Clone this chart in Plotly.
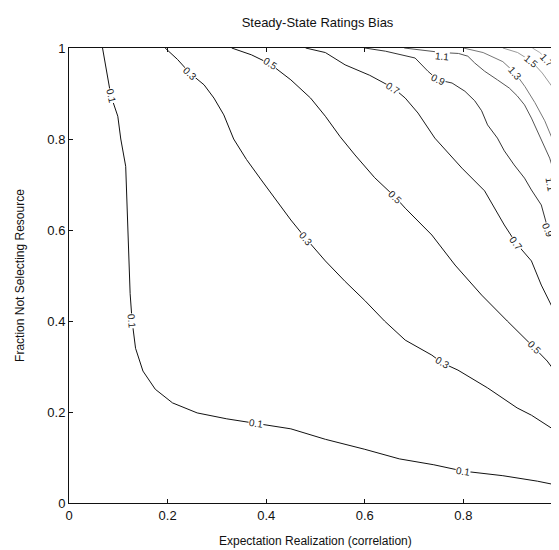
import math
import plotly.graph_objects as go

# ---- data (contour lines of "bias") ----
levels = [0.1, 0.3, 0.5, 0.7, 0.9, 1.1, 1.3, 1.5, 1.7]

c01_x = [0.068, 0.075, 0.085, 0.099, 0.105, 0.115, 0.118, 0.121, 0.124, 0.128, 0.135, 0.15, 0.175, 0.21, 0.26, 0.32, 0.38, 0.45, 0.52, 0.6, 0.67, 0.74, 0.8, 0.88, 0.95, 1.0]
c01_y = [1.0, 0.96, 0.895, 0.85, 0.80, 0.74, 0.65, 0.55, 0.46, 0.40, 0.34, 0.29, 0.25, 0.22, 0.198, 0.185, 0.175, 0.163, 0.14, 0.118, 0.097, 0.084, 0.07, 0.06, 0.048, 0.037]

c03_x = [0.195, 0.22, 0.245, 0.274, 0.294, 0.314, 0.334, 0.36, 0.39, 0.42, 0.45, 0.48, 0.52, 0.56, 0.6, 0.64, 0.682, 0.736, 0.757, 0.789, 0.849, 0.909, 0.938, 0.978, 1.0]
c03_y = [1.0, 0.975, 0.945, 0.919, 0.89, 0.853, 0.80, 0.755, 0.71, 0.665, 0.622, 0.582, 0.532, 0.487, 0.445, 0.4, 0.358, 0.325, 0.308, 0.292, 0.253, 0.209, 0.193, 0.165, 0.136]

c05_x = [0.33, 0.37, 0.408, 0.45, 0.49, 0.52, 0.55, 0.58, 0.62, 0.662, 0.682, 0.736, 0.783, 0.837, 0.889, 0.924, 0.944, 0.97, 1.0]
c05_y = [1.0, 0.985, 0.965, 0.93, 0.89, 0.85, 0.805, 0.765, 0.715, 0.672, 0.648, 0.589, 0.523, 0.457, 0.40, 0.363, 0.341, 0.312, 0.268]

c07_x = [0.48, 0.52, 0.56, 0.61, 0.658, 0.682, 0.708, 0.742, 0.797, 0.843, 0.883, 0.907, 0.938, 0.958, 0.984, 1.0]
c07_y = [1.0, 0.99, 0.963, 0.94, 0.912, 0.89, 0.857, 0.802, 0.736, 0.686, 0.611, 0.571, 0.532, 0.479, 0.422, 0.385]

c09_x = [0.60, 0.642, 0.702, 0.728, 0.748, 0.777, 0.803, 0.823, 0.837, 0.849, 0.869, 0.883, 0.903, 0.924, 0.938, 0.958, 0.972, 0.99, 1.0]
c09_y = [1.0, 0.993, 0.978, 0.949, 0.93, 0.923, 0.905, 0.884, 0.862, 0.831, 0.802, 0.774, 0.743, 0.714, 0.688, 0.655, 0.6, 0.567, 0.516]

c11_x = [0.68, 0.72, 0.757, 0.79, 0.809, 0.823, 0.843, 0.869, 0.893, 0.909, 0.924, 0.938, 0.95, 0.962, 0.975, 0.983, 0.987, 0.992, 1.0]
c11_y = [1.0, 0.995, 0.99, 0.988, 0.982, 0.967, 0.949, 0.93, 0.912, 0.895, 0.875, 0.846, 0.818, 0.787, 0.758, 0.73, 0.70, 0.67, 0.64]

c13_x = [0.80, 0.84, 0.88, 0.905, 0.925, 0.945, 0.965, 0.98, 0.992, 1.0]
c13_y = [1.0, 0.99, 0.97, 0.945, 0.915, 0.88, 0.84, 0.80, 0.77, 0.74]

c15_x = [0.88, 0.91, 0.938, 0.96, 0.98, 1.0]
c15_y = [1.0, 0.99, 0.971, 0.945, 0.915, 0.88]

c17_x = [0.94, 0.955, 0.97, 0.985, 1.0]
c17_y = [1.0, 0.99, 0.974, 0.955, 0.93]

# index along each curve where an inline level label sits
label_idx = {
    0.1: [2, 9, 16, 22],
    0.3: [2, 11, 18],
    0.5: [2, 9, 16],
    0.7: [4, 11],
    0.9: [4, 16],
    1.1: [2, 16],
    1.3: [3],
    1.5: [2],
    1.7: [2],
}

x_ticks = [0, 0.2, 0.4, 0.6, 0.8, 1]
x_tick_text = ["0", "0.2", "0.4", "0.6", "0.8", "1"]
y_ticks = [0, 0.2, 0.4, 0.6, 0.8, 1]
y_tick_text = ["0", "0.2", "0.4", "0.6", "0.8", "1"]

curves = {
    0.1: (c01_x, c01_y), 0.3: (c03_x, c03_y), 0.5: (c05_x, c05_y),
    0.7: (c07_x, c07_y), 0.9: (c09_x, c09_y), 1.1: (c11_x, c11_y),
    1.3: (c13_x, c13_y), 1.5: (c15_x, c15_y), 1.7: (c17_x, c17_y),
}
colors = {0.1: "#111", 0.3: "#111", 0.5: "#111", 0.7: "#1a1a1a", 0.9: "#333",
          1.1: "#555", 1.3: "#777", 1.5: "#999", 1.7: "#aaa"}

FONT = "Liberation Sans, Arial, sans-serif"
LABEL_FS = 10
W, H = 559, 550
M = dict(l=61, r=1, t=40, b=55)
PW = W - M["l"] - M["r"]
PH = H - M["t"] - M["b"]

fig = go.Figure()
for lv in levels:
    xs, ys = curves[lv]
    fig.add_trace(go.Scatter(x=xs, y=ys, mode="lines",
                             line=dict(color=colors[lv], width=1),
                             hoverinfo="skip", showlegend=False, cliponaxis=True))

annotations = []
for lv in levels:
    xs, ys = curves[lv]
    for i in label_idx[lv]:
        a = max(i - 1, 0)
        b = min(i + 1, len(xs) - 1)
        dx = (xs[b] - xs[a]) * PW
        dy = -(ys[b] - ys[a]) * PH
        ang = math.degrees(math.atan2(dy, dx))
        if ang > 90:
            ang -= 180
        if ang < -90:
            ang += 180
        txt = f"{lv:g}"
        # keep the rotated label box inside the page
        tw = len(txt) * 0.6 * LABEL_FS
        th = LABEL_FS * 1.3
        r = math.radians(ang)
        half_w = (tw * abs(math.cos(r)) + th * abs(math.sin(r))) / 2
        half_h = (tw * abs(math.sin(r)) + th * abs(math.cos(r))) / 2
        px = M["l"] + xs[i] * PW
        py = M["t"] + (1 - ys[i]) * PH
        xshift = min(0.0, (W - 5) - (px + half_w))
        yshift = 0.0
        if py - half_h < M["t"] + 1:
            yshift = -((M["t"] + 1) - (py - half_h))
        annotations.append(dict(
            x=xs[i], y=ys[i], xref="x", yref="y", text=txt,
            showarrow=False, textangle=ang, bgcolor="white", borderpad=0,
            xshift=xshift, yshift=yshift,
            font=dict(family=FONT, size=LABEL_FS, color="#222"),
        ))

annotations.append(dict(
    x=0.5, y=-(533 - 495) / PH, xref="paper", yref="paper", yanchor="middle",
    text="Expectation Realization (correlation)", showarrow=False,
    font=dict(family=FONT, size=12, color="#111")))
annotations.append(dict(
    x=-(61 - 11) / PW, y=0.5, xref="paper", yref="paper", xanchor="center",
    text="Fraction Not Selecting Resource", showarrow=False, textangle=-90,
    font=dict(family=FONT, size=12, color="#111")))

axis_common = dict(
    range=[0, 1], showgrid=False, zeroline=False, showline=True,
    linecolor="#111", linewidth=1, mirror="ticks", ticks="inside",
    ticklen=4, tickcolor="#111", ticklabeloverflow="allow",
    tickfont=dict(family=FONT, size=13, color="#111"),
)

fig.update_layout(
    width=W, height=H, margin=M,
    paper_bgcolor="white", plot_bgcolor="white",
    title=dict(text="Steady-State Ratings Bias", x=(M["l"] + PW / 2) / W,
               xanchor="center", y=1 - 14 / H, yanchor="middle",
               font=dict(family=FONT, size=13, color="#111")),
    xaxis=dict(tickvals=x_ticks, ticktext=x_tick_text, **axis_common),
    yaxis=dict(tickvals=y_ticks, ticktext=y_tick_text, **axis_common),
    annotations=annotations,
)

fig.write_html("out.html")
